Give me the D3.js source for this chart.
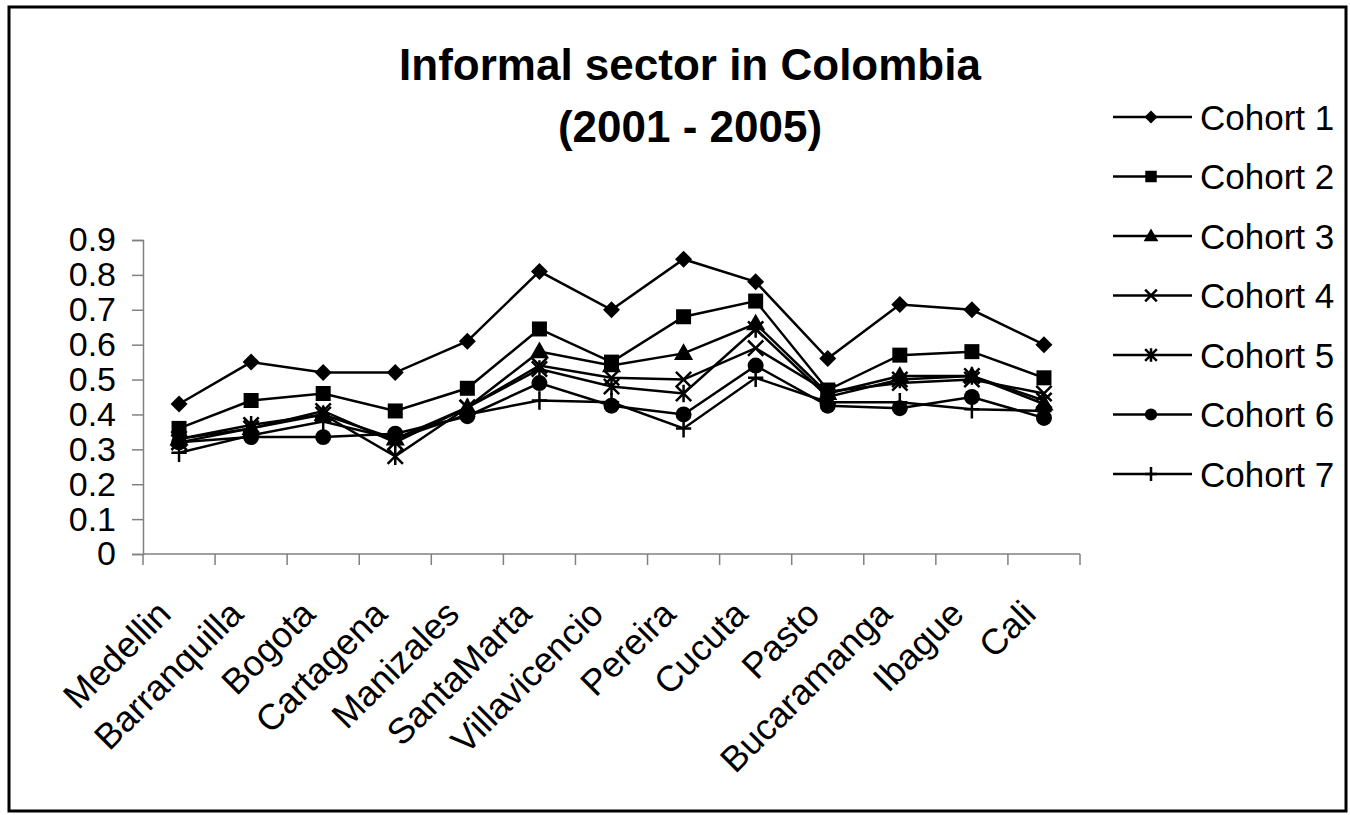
<!DOCTYPE html>
<html>
<head>
<meta charset="utf-8">
<script src="https://cdn.jsdelivr.net/npm/d3@7"></script>
<style>
  body { margin: 0; background: #fff; }
  text { font-family: Arial, "Liberation Sans", sans-serif; fill: #000; }
</style>
</head>
<body>
<script>
// data
const cities = ["Medellin", "Barranquilla", "Bogota", "Cartagena", "Manizales", "SantaMarta",
  "Villavicencio", "Pereira", "Cucuta", "Pasto", "Bucaramanga", "Ibague", "Cali"];
const cohortNames = ["Cohort 1", "Cohort 2", "Cohort 3", "Cohort 4", "Cohort 5", "Cohort 6", "Cohort 7"];
const cohort1 = [0.43, 0.55, 0.52, 0.52, 0.61, 0.81, 0.70, 0.845, 0.78, 0.56, 0.715, 0.70, 0.60];
const cohort2 = [0.36, 0.44, 0.46, 0.41, 0.475, 0.645, 0.55, 0.68, 0.725, 0.47, 0.57, 0.58, 0.505];
const cohort3 = [0.33, 0.36, 0.40, 0.33, 0.42, 0.58, 0.54, 0.575, 0.66, 0.46, 0.51, 0.51, 0.43];
const cohort4 = [0.32, 0.36, 0.41, 0.32, 0.42, 0.54, 0.505, 0.50, 0.59, 0.465, 0.49, 0.50, 0.46];
const cohort5 = [0.33, 0.37, 0.40, 0.28, 0.42, 0.53, 0.48, 0.46, 0.645, 0.45, 0.50, 0.51, 0.44];
const cohort6 = [0.32, 0.335, 0.335, 0.345, 0.395, 0.49, 0.425, 0.40, 0.54, 0.425, 0.418, 0.45, 0.39];
const cohort7 = [0.29, 0.34, 0.38, 0.33, 0.40, 0.44, 0.435, 0.36, 0.505, 0.435, 0.435, 0.415, 0.41];
const yTicks = [0, 0.1, 0.2, 0.3, 0.4, 0.5, 0.6, 0.7, 0.8, 0.9];

const series = [cohort1, cohort2, cohort3, cohort4, cohort5, cohort6, cohort7];
const markers = ["diamond", "square", "triangle", "times", "asterisk", "circle", "plus"];

let width = 1350;
let height = 815;

let svg = d3.select("body").append("svg")
  .attr("width", width)
  .attr("height", height);

// outer frame
svg.append("rect")
  .attr("x", 9).attr("y", 7)
  .attr("width", 1337).attr("height", 804)
  .attr("fill", "none")
  .attr("stroke", "#000")
  .attr("stroke-width", 3);

let x = d3.scaleBand().domain(cities).range([143, 1080]);
let y = d3.scaleLinear().domain([0, 0.9]).range([554, 240]);

// title
let title = svg.append("text")
  .attr("text-anchor", "middle")
  .attr("font-weight", "bold")
  .attr("font-size", 44);
title.append("tspan").attr("x", 690).attr("y", 80).text("Informal sector in Colombia");
title.append("tspan").attr("x", 690).attr("y", 142).text("(2001 - 2005)");

// y axis
let yAxis = svg.append("g")
  .attr("transform", "translate(143,0)")
  .call(d3.axisLeft(y).tickValues(yTicks).tickSize(11).tickPadding(16)
    .tickFormat((d) => (d === 0 ? "0" : d3.format(".1f")(d))));
yAxis.select(".domain").attr("stroke", "#808080").attr("stroke-width", 1.5);
yAxis.selectAll(".tick line").attr("stroke", "#808080").attr("stroke-width", 1.5);
yAxis.selectAll(".tick text")
  .attr("font-size", 34)
  .attr("font-family", "Arial, 'Liberation Sans', sans-serif")
  .attr("fill", "#000");

// x axis: line + ticks between categories
let xAxis = svg.append("g");
xAxis.append("line")
  .attr("x1", x.range()[0]).attr("x2", x.range()[1])
  .attr("y1", y(0)).attr("y2", y(0))
  .attr("stroke", "#808080").attr("stroke-width", 1.5);
xAxis.selectAll(".xtick")
  .data(cities.concat(["end"]))
  .enter()
  .append("line")
  .attr("class", "xtick")
  .attr("x1", (d, i) => x.range()[0] + i * x.step())
  .attr("x2", (d, i) => x.range()[0] + i * x.step())
  .attr("y1", y(0)).attr("y2", y(0) + 11)
  .attr("stroke", "#808080").attr("stroke-width", 1.5);

// rotated category labels, baseline end just left of the category centre
xAxis.selectAll(".xlabel")
  .data(cities)
  .enter()
  .append("text")
  .attr("class", "xlabel")
  .attr("text-anchor", "end")
  .attr("font-size", 36)
  .attr("transform", (d) => "translate(" + (x(d) + x.bandwidth() / 2 - 6) + "," + (y(0) + 62) + ") rotate(-45)")
  .text((d) => d);

// marker drawing
function drawMarker(sel, type, s) {
  if (type === "diamond") {
    sel.append("path")
      .attr("d", d3.symbol().type(d3.symbolSquare).size(s * s * 0.5)())
      .attr("transform", "rotate(45)")
      .attr("fill", "#000");
  } else if (type === "square") {
    sel.append("path").attr("d", d3.symbol().type(d3.symbolSquare).size(s * s * 0.78)()).attr("fill", "#000");
  } else if (type === "triangle") {
    sel.append("path").attr("d", d3.symbol().type(d3.symbolTriangle).size(s * s * 0.55)())
      .attr("transform", "translate(0,1)").attr("fill", "#000");
  } else if (type === "circle") {
    sel.append("circle").attr("r", s * 0.47).attr("fill", "#000");
  } else {
    let h = s * 0.45;
    let d = "";
    if (type === "times" || type === "asterisk") {
      d += "M" + -h + "," + -h + "L" + h + "," + h + "M" + -h + "," + h + "L" + h + "," + -h;
    }
    if (type === "asterisk") {
      d += "M0," + -h * 1.15 + "L0," + h * 1.15;
    }
    if (type === "plus") {
      d += "M" + -h + ",0L" + h + ",0M0," + -h * 1.2 + "L0," + h * 1.2;
    }
    sel.append("path").attr("d", d).attr("fill", "none")
      .attr("stroke", "#000").attr("stroke-width", 2.5);
  }
}

let line = d3.line()
  .x((d, i) => x(cities[i]) + x.bandwidth() / 2)
  .y((d) => y(d));

let plot = svg.append("g");
series.forEach((values, k) => {
  plot.append("path")
    .datum(values)
    .attr("d", line)
    .attr("fill", "none")
    .attr("stroke", "#000")
    .attr("stroke-width", 2.5);
});
series.forEach((values, k) => {
  plot.selectAll(".m" + k)
    .data(values)
    .enter()
    .append("g")
    .attr("class", "m" + k)
    .attr("transform", (d, i) => "translate(" + (x(cities[i]) + x.bandwidth() / 2) + "," + y(d) + ")")
    .each(function () {
      drawMarker(d3.select(this), markers[k], 17);
    });
});

// legend
let legend = svg.append("g");
let rows = legend.selectAll("g")
  .data(cohortNames)
  .enter()
  .append("g")
  .attr("transform", (d, i) => "translate(0," + (117 + i * 59.5) + ")");
rows.append("line")
  .attr("x1", 1113).attr("x2", 1192)
  .attr("stroke", "#000").attr("stroke-width", 2.5);
rows.append("g")
  .attr("transform", "translate(1151,0)")
  .each(function (d, i) {
    drawMarker(d3.select(this), markers[i], 13);
  });
rows.append("text")
  .attr("x", 1200)
  .attr("dy", "0.36em")
  .attr("font-size", 35)
  .text((d) => d);
</script>
</body>
</html>
